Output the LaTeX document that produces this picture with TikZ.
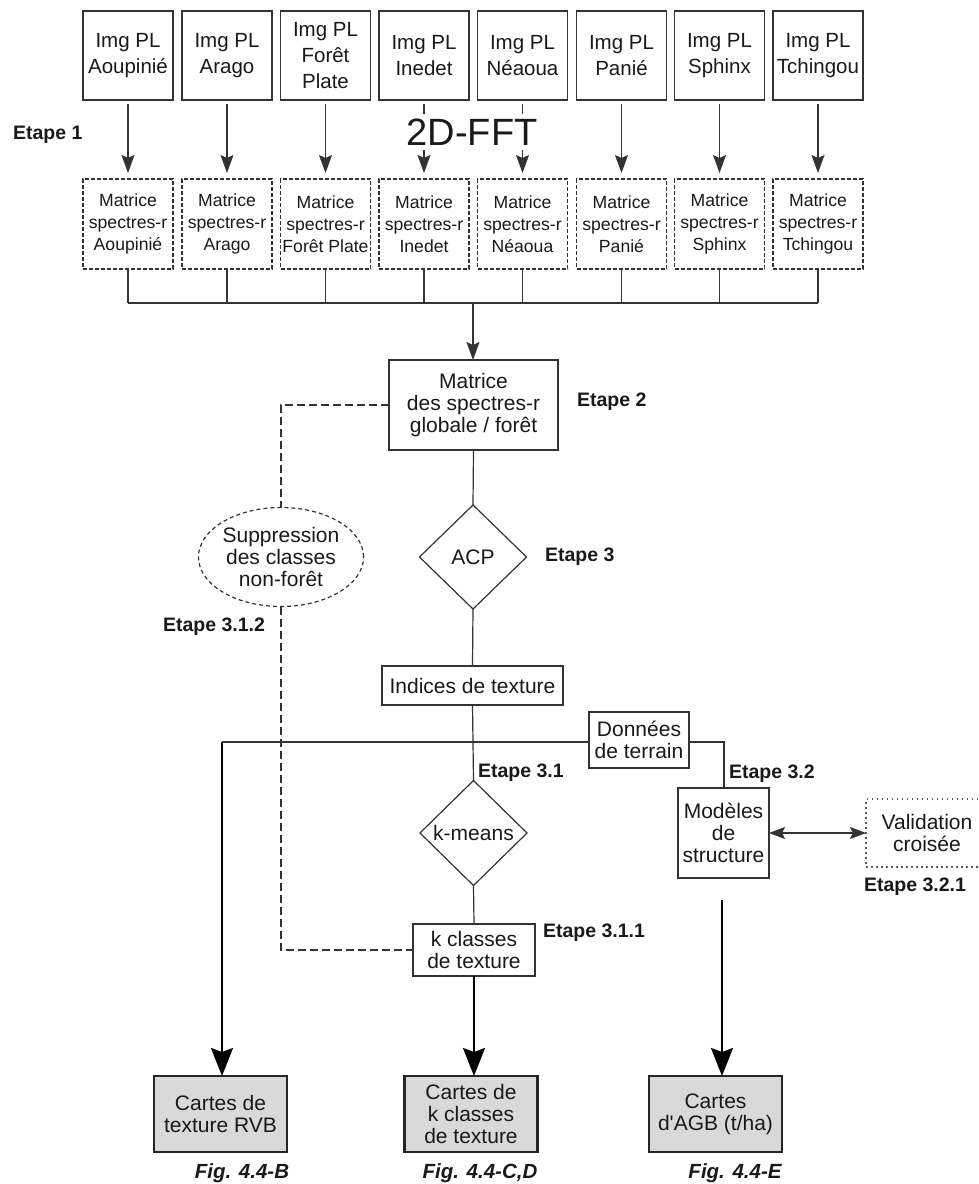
\documentclass[tikz,border=0pt]{standalone}
\usepackage{fontspec}
\setmainfont{Liberation Sans}
\usetikzlibrary{shapes.geometric,arrows.meta}
\begin{document}
\begin{tikzpicture}[x=1pt,y=-1pt,
  every node/.style={inner sep=0pt, outer sep=0pt, text=black!90},
  ln/.style={draw=black!80, line width=1.2pt},
  imgbox/.style={ln, minimum width=90pt, minimum height=89pt, align=center, font=\fontsize{20.5}{26}\selectfont},
  matbox/.style={ln, dash pattern=on 4pt off 2pt, minimum width=90pt, minimum height=90pt, align=center, font=\fontsize{17.6}{22}\selectfont},
  box/.style={ln, align=center, font=\fontsize{21}{22}\selectfont},
  dia/.style={ln, shape=diamond, align=center, font=\fontsize{21}{22}\selectfont},
  outbox/.style={draw=black!85, line width=2.2pt, fill=black!15, minimum width=133pt, minimum height=76pt, align=center, font=\fontsize{21}{22}\selectfont},
  etape/.style={anchor=west, font=\bfseries\fontsize{19.5}{22}\selectfont},
  fig/.style={font=\bfseries\itshape\fontsize{20.5}{22}\selectfont},
  arr/.style={ln, -{Stealth[length=18pt,width=13pt,inset=3pt]}},
  bigarr/.style={draw=black, line width=2.2pt, -{Stealth[length=28pt,width=22pt,inset=4pt]}},
  dsh/.style={draw=black!80, line width=1.2pt, dash pattern=on 8pt off 4pt},
  sarr/.style={ln, {Stealth[length=16pt,width=12pt,inset=3pt]}-{Stealth[length=16pt,width=12pt,inset=3pt]}},
]
\useasboundingbox (0,0) rectangle (978,1184);

% top image boxes
\node[imgbox] (i1) at (128,55.5) {Img PL\\Aoupinié};
\node[imgbox] (i2) at (227,55.5) {Img PL\\Arago};
\node[imgbox] (i3) at (325.5,55.5) {Img PL\\Forêt\\Plate};
\node[imgbox] (i4) at (424,55.5) {Img PL\\Inedet};
\node[imgbox] (i5) at (522.5,55.5) {Img PL\\Néaoua};
\node[imgbox] (i6) at (621.5,55.5) {Img PL\\Panié};
\node[imgbox] (i7) at (719.5,55.5) {Img PL\\Sphinx};
\node[imgbox] (i8) at (818,55.5) {Img PL\\Tchingou};

% matrices
\node[matbox] (m1) at (128,224) {Matrice\\spectres-r\\Aoupinié};
\node[matbox] (m2) at (227,224) {Matrice\\spectres-r\\Arago};
\node[matbox] (m3) at (325.5,224) {Matrice\\spectres-r\\Forêt Plate};
\node[matbox] (m4) at (424,224) {Matrice\\spectres-r\\Inedet};
\node[matbox] (m5) at (522.5,224) {Matrice\\spectres-r\\Néaoua};
\node[matbox] (m6) at (621.5,224) {Matrice\\spectres-r\\Panié};
\node[matbox] (m7) at (719.5,224) {Matrice\\spectres-r\\Sphinx};
\node[matbox] (m8) at (818,224) {Matrice\\spectres-r\\Tchingou};

\foreach \k in {1,...,8}{
  \draw[arr, shorten <=4pt, shorten >=6pt] (i\k) -- (m\k);
}
\node[fill=white, inner sep=5pt, font=\fontsize{38}{40}\selectfont] (fft) at (472,132) {2D-FFT};
\node[etape] (e1) at (13,135) {Etape 1};

% bus
\coordinate (bl) at (128,303);
\coordinate (br) at (818,303);
\coordinate (bc) at (473,303);
\draw[ln] (bl) -- (br);
\foreach \k in {1,...,8}{
  \draw[ln] (m\k.south) -- (m\k.south |- bl);
}

% global matrix
\node[box, minimum width=169pt, minimum height=90pt] (glob) at (473.5,405) {Matrice\\des spectres-r\\globale / forêt};
\draw[arr] (bc) -- (bc |- glob.north);
\node[etape] (e2) at (577,402) {Etape 2};

% ACP
\node[dia, minimum width=107pt, minimum height=104pt] (acp) at (473,557) {ACP};
\node[etape] (e3) at (545,557) {Etape 3};
\draw[ln] (glob.south) -- (acp.north);

% ellipse
\node[ln, shape=ellipse, dash pattern=on 4pt off 3pt, minimum width=151pt, minimum height=99pt, align=center, font=\fontsize{21}{22}\selectfont] (ell) at (281,557) {Suppression\\des classes\\non-forêt};
\node[etape] (e312) at (163,627) {Etape 3.1.2};
\draw[dsh] (glob.west) -| (ell.north);

% indices
\node[box, minimum width=181pt, minimum height=39pt] (ind) at (472.5,685.5) {Indices de texture};
\draw[ln] (acp.south) -- (ind.north);

% donnees
\node[box, minimum width=100pt, minimum height=56pt] (don) at (639,740) {Données\\de terrain};
\coordinate (hl) at (222,742);
\draw[ln] (hl) -- (hl -| don.west);
\draw[ln] (hl -| don.east) -| (724,788);

% k-means
\node[dia, minimum width=107pt, minimum height=105pt] (km) at (473.5,833) {k-means};
\draw[ln] (ind.south) -- (km.north);
\node[etape] (e31) at (478,773) {Etape 3.1};

% k classes
\node[box, fill=white, minimum width=122pt, minimum height=52pt] (kc) at (474,950) {k classes\\de texture};
\draw[ln] (km.south) -- (kc.north);
\node[etape] (e311) at (543,933) {Etape 3.1.1};
\draw[dsh] (ell.south) |- (kc.west);

% modeles
\node[box, minimum width=91pt, minimum height=90pt] (mod) at (723.5,833) {Modèles\\de\\structure};
\node[etape] (e32) at (729,774) {Etape 3.2};
\node[draw=black!65, line width=1.2pt, dash pattern=on 1.5pt off 3.5pt, minimum width=122pt, minimum height=68pt, align=center, font=\fontsize{21}{22}\selectfont] (val) at (927,833) {Validation\\croisée};
\node[etape] (e321) at (864,887) {Etape 3.2.1};
\draw[sarr] (mod.east) -- (val.west);

% outputs
\node[outbox] (rvb) at (220.5,1114) {Cartes de\\texture RVB};
\node[outbox] (ck) at (471,1114) {Cartes de\\k classes\\de texture};
\node[outbox] (agb) at (715.5,1114) {Cartes\\d\textquotesingle AGB (t/ha)};

\draw[bigarr] (hl) -- (hl |- rvb.north);
\draw[bigarr] (kc.south) -- (kc.south |- ck.north);
\coordinate (ag) at (722,900);
\draw[bigarr] (ag) -- (ag |- agb.north);

\node[fig] (f1) at (242,1173) {Fig. 4.4-B};
\node[fig] (f2) at (480,1173) {Fig. 4.4-C,D};
\node[fig] (f3) at (735,1173) {Fig. 4.4-E};
\end{tikzpicture}
\end{document}
